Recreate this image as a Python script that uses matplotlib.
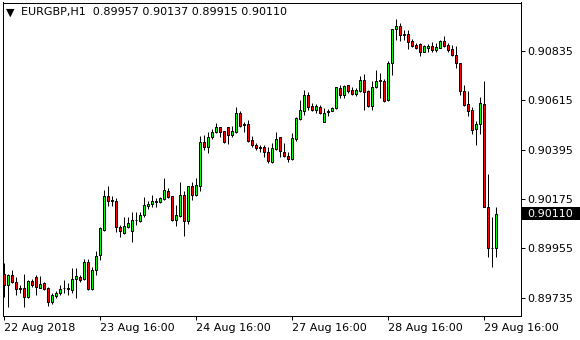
import matplotlib.pyplot as plt
from matplotlib.patches import Rectangle
from matplotlib.transforms import blended_transform_factory

# EURGBP H1 candles
symbol = "EURGBP,H1"

opens = [
    0.89842, 0.89790, 0.89835, 0.89803, 0.89776, 0.89777, 0.89736, 0.89809, 0.89826, 0.89779,
    0.89799, 0.89777, 0.89715, 0.89742, 0.89757, 0.89777, 0.89772, 0.89768, 0.89817, 0.89826,
    0.89817, 0.89894, 0.89774, 0.89858, 0.89925, 0.90037, 0.90187, 0.90171, 0.90166, 0.90050,
    0.90025, 0.90050, 0.90034, 0.90080, 0.90078, 0.90102, 0.90144, 0.90151, 0.90160, 0.90160,
    0.90176, 0.90212, 0.90187, 0.90081, 0.90099, 0.90192, 0.90078, 0.90233, 0.90193, 0.90233,
    0.90428, 0.90408, 0.90449, 0.90473, 0.90495, 0.90477, 0.90495, 0.90458, 0.90473, 0.90558,
    0.90511, 0.90510, 0.90438, 0.90416, 0.90408, 0.90407, 0.90385, 0.90341, 0.90398, 0.90449,
    0.90386, 0.90367, 0.90355, 0.90443, 0.90532, 0.90569, 0.90639, 0.90591, 0.90572, 0.90584,
    0.90517, 0.90562, 0.90565, 0.90580, 0.90669, 0.90639, 0.90681, 0.90661, 0.90644, 0.90657,
    0.90706, 0.90657, 0.90591, 0.90674, 0.90706, 0.90702, 0.90614, 0.90781, 0.90932, 0.90947,
    0.90910, 0.90910, 0.90880, 0.90862, 0.90865, 0.90832, 0.90847, 0.90855, 0.90837, 0.90847,
    0.90880, 0.90862, 0.90843, 0.90818, 0.90781, 0.90658, 0.90597, 0.90570, 0.90485, 0.90508,
    0.90599, 0.90138, 0.89958, 0.89957,
]
highs = [
    0.89888, 0.89839, 0.89858, 0.89826, 0.89791, 0.89840, 0.89814, 0.89818, 0.89836, 0.89833,
    0.89805, 0.89781, 0.89754, 0.89766, 0.89791, 0.89814, 0.89799, 0.89866, 0.89866, 0.89836,
    0.89909, 0.89909, 0.89870, 0.89944, 0.90051, 0.90215, 0.90233, 0.90188, 0.90178, 0.90058,
    0.90096, 0.90096, 0.90118, 0.90117, 0.90117, 0.90183, 0.90166, 0.90193, 0.90181, 0.90185,
    0.90267, 0.90223, 0.90188, 0.90147, 0.90251, 0.90212, 0.90233, 0.90251, 0.90267, 0.90456,
    0.90458, 0.90473, 0.90489, 0.90513, 0.90497, 0.90479, 0.90497, 0.90501, 0.90587, 0.90565,
    0.90517, 0.90528, 0.90456, 0.90424, 0.90416, 0.90416, 0.90408, 0.90424, 0.90473, 0.90453,
    0.90424, 0.90386, 0.90468, 0.90542, 0.90617, 0.90661, 0.90651, 0.90602, 0.90599, 0.90595,
    0.90580, 0.90578, 0.90587, 0.90676, 0.90681, 0.90684, 0.90684, 0.90676, 0.90669, 0.90725,
    0.90731, 0.90661, 0.90699, 0.90751, 0.90736, 0.90711, 0.90788, 0.90934, 0.90978, 0.90959,
    0.90929, 0.90929, 0.90889, 0.90870, 0.90870, 0.90862, 0.90865, 0.90874, 0.90870, 0.90885,
    0.90902, 0.90870, 0.90862, 0.90855, 0.90783, 0.90684, 0.90655, 0.90584, 0.90522, 0.90629,
    0.90702, 0.90287, 0.90093, 0.90137,
]
lows = [
    0.89736, 0.89695, 0.89799, 0.89747, 0.89754, 0.89695, 0.89733, 0.89784, 0.89747, 0.89777,
    0.89769, 0.89698, 0.89707, 0.89732, 0.89747, 0.89754, 0.89747, 0.89754, 0.89732, 0.89805,
    0.89814, 0.89769, 0.89769, 0.89836, 0.89903, 0.90034, 0.90144, 0.90144, 0.90029, 0.90004,
    0.90019, 0.90044, 0.89985, 0.90060, 0.90074, 0.90093, 0.90129, 0.90141, 0.90141, 0.90156,
    0.90171, 0.90178, 0.90078, 0.90056, 0.90096, 0.90010, 0.90064, 0.90171, 0.90188, 0.90212,
    0.90394, 0.90382, 0.90443, 0.90468, 0.90453, 0.90424, 0.90419, 0.90453, 0.90468, 0.90498,
    0.90475, 0.90431, 0.90406, 0.90394, 0.90386, 0.90364, 0.90337, 0.90337, 0.90394, 0.90364,
    0.90364, 0.90341, 0.90349, 0.90434, 0.90528, 0.90550, 0.90572, 0.90565, 0.90558, 0.90554,
    0.90517, 0.90545, 0.90565, 0.90577, 0.90624, 0.90624, 0.90647, 0.90639, 0.90635, 0.90654,
    0.90572, 0.90587, 0.90572, 0.90669, 0.90627, 0.90607, 0.90612, 0.90728, 0.90885, 0.90880,
    0.90885, 0.90843, 0.90852, 0.90843, 0.90814, 0.90832, 0.90832, 0.90832, 0.90832, 0.90847,
    0.90852, 0.90832, 0.90814, 0.90758, 0.90639, 0.90591, 0.90547, 0.90465, 0.90414, 0.90465,
    0.90138, 0.89917, 0.89870, 0.89915,
]
closes = [
    0.89791, 0.89836, 0.89803, 0.89775, 0.89775, 0.89739, 0.89808, 0.89791, 0.89781, 0.89795,
    0.89774, 0.89717, 0.89745, 0.89757, 0.89774, 0.89777, 0.89777, 0.89817, 0.89830, 0.89814,
    0.89894, 0.89775, 0.89858, 0.89922, 0.90044, 0.90187, 0.90168, 0.90165, 0.90049, 0.90031,
    0.90053, 0.90068, 0.90081, 0.90080, 0.90104, 0.90147, 0.90153, 0.90166, 0.90166, 0.90180,
    0.90215, 0.90185, 0.90081, 0.90102, 0.90192, 0.90078, 0.90233, 0.90192, 0.90238, 0.90428,
    0.90408, 0.90453, 0.90473, 0.90495, 0.90475, 0.90431, 0.90458, 0.90479, 0.90558, 0.90502,
    0.90504, 0.90435, 0.90417, 0.90401, 0.90401, 0.90383, 0.90345, 0.90401, 0.90443, 0.90389,
    0.90367, 0.90355, 0.90447, 0.90535, 0.90572, 0.90639, 0.90587, 0.90572, 0.90591, 0.90560,
    0.90558, 0.90569, 0.90580, 0.90672, 0.90639, 0.90679, 0.90658, 0.90644, 0.90661, 0.90706,
    0.90654, 0.90591, 0.90676, 0.90702, 0.90699, 0.90612, 0.90781, 0.90932, 0.90947, 0.90907,
    0.90904, 0.90877, 0.90859, 0.90847, 0.90832, 0.90858, 0.90855, 0.90837, 0.90853, 0.90880,
    0.90858, 0.90837, 0.90818, 0.90781, 0.90658, 0.90596, 0.90568, 0.90481, 0.90508, 0.90602,
    0.90138, 0.89958, 0.89957, 0.90110,
]

time_ticks = [0, 24, 48, 72, 96, 120]  # bar index of each time label
time_labels = ["22 Aug 2018", "23 Aug 16:00", "24 Aug 16:00",
               "27 Aug 16:00", "28 Aug 16:00", "29 Aug 16:00"]
price_ticks = [0.89735, 0.89955, 0.90175, 0.90395, 0.90615, 0.90835]

plt.rcParams['font.family'] = ['DejaVu Sans']
plt.rcParams['font.size'] = 8

fig = plt.figure(figsize=(5.8, 3.4), dpi=100)
ax = fig.add_axes([2.5 / 580, 24 / 340, 518 / 580, 313.5 / 340])

x = list(range(len(opens)))
colors = ['#00ff00' if c >= o else '#ff0000' for o, c in zip(opens, closes)]
bottoms = [min(o, c) for o, c in zip(opens, closes)]
heights = [abs(c - o) for o, c in zip(opens, closes)]

lw = 0.72  # one pixel at 100 dpi
ax.vlines(x, lows, highs, color='black', linewidth=lw, zorder=1)
ax.bar(x, heights, bottom=bottoms, width=0.5, color=colors, edgecolor='black',
       linewidth=lw, zorder=2)

ax.set_xlim(-0.25, 129.25)
ax.set_ylim(0.89653, 0.91051)

ax.yaxis.tick_right()
ax.set_yticks(price_ticks)
ax.set_yticklabels([f"{p:.5f}" for p in price_ticks])
ax.set_xticks(time_ticks)
ax.set_xticklabels(time_labels, ha='left')
ax.tick_params(axis='y', direction='out', length=3, width=lw, pad=2, colors='black')
ax.tick_params(axis='x', direction='out', length=3, width=lw, pad=2, colors='black')
for s in ax.spines.values():
    s.set_linewidth(lw)
    s.set_color('black')

# last price marker on the price scale
last = closes[-1]
tr = blended_transform_factory(ax.transAxes, ax.transData)
ax.add_patch(Rectangle((1.003, last - 0.00027), 0.2, 0.00054, transform=tr,
                       facecolor='black', edgecolor='none', clip_on=False, zorder=5))
ax.text(1.0125, last, f"{last:.5f}", transform=tr, color='white', va='center',
        ha='left', zorder=6, clip_on=False)

# header
fig.text(5.5 / 580, 1 - 12.5 / 340, "\u25bc", fontsize=8, va='center', ha='left')
fig.text(21 / 580, 1 - 12.5 / 340,
         f"{symbol}  {opens[-1]:.5f} {highs[-1]:.5f} {lows[-1]:.5f} {closes[-1]:.5f}",
         va='center', ha='left')

fig.savefig("out.png", dpi=100)
